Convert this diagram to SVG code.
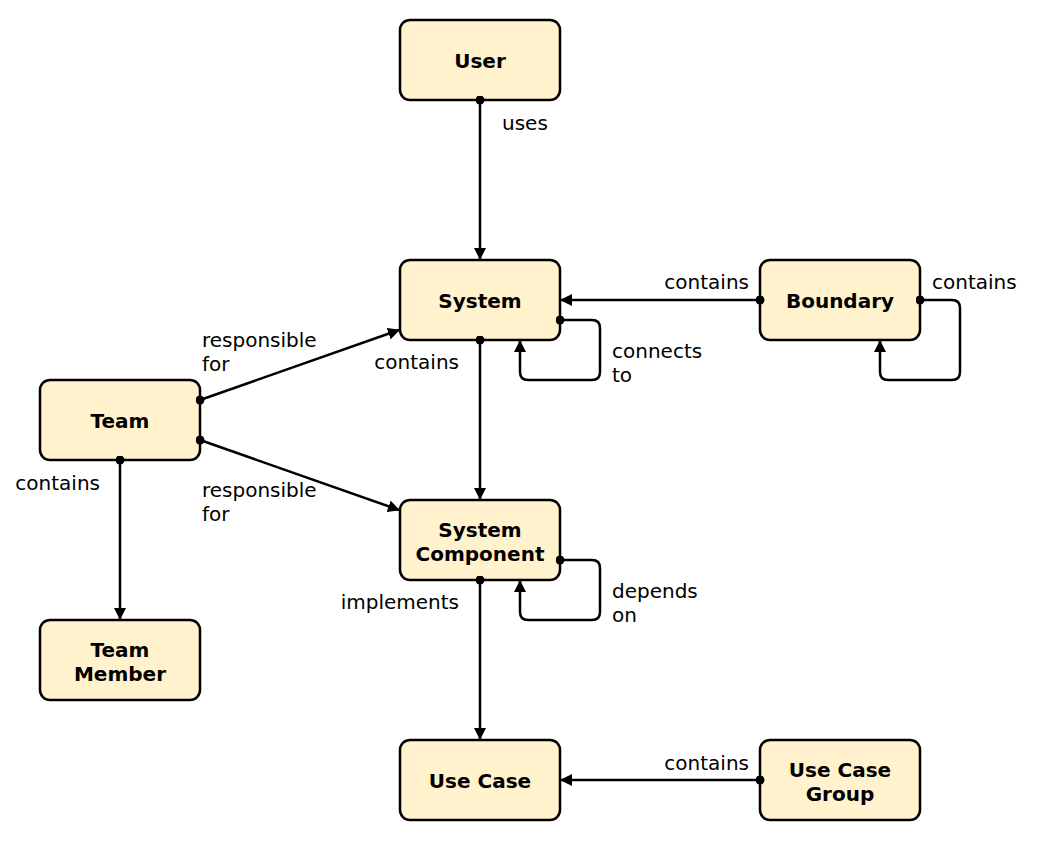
<svg xmlns="http://www.w3.org/2000/svg" width="1041" height="841" viewBox="0 0 1041 841">
<style>
.n rect{fill:#fff2cc;stroke:#000;stroke-width:2.5}
.n text{font-family:"DejaVu Sans",Verdana,sans-serif;font-size:20px;font-weight:bold;text-anchor:middle;fill:#000}
.e path{fill:none;stroke:#000;stroke-width:2.5;marker-start:url(#dot);marker-end:url(#arr)}
.l text{font-family:"DejaVu Sans",Verdana,sans-serif;font-size:20px;fill:#000}
.r{text-anchor:end}
</style>
<defs>
<marker id="arr" viewBox="0 0 12 12" refX="11" refY="6" markerWidth="12" markerHeight="12" markerUnits="userSpaceOnUse" orient="auto"><path d="M0,0 L12,6 L0,12 Z" fill="#000"/></marker>
<marker id="dot" viewBox="0 0 10 10" refX="5" refY="5" markerWidth="9" markerHeight="9" markerUnits="userSpaceOnUse"><circle cx="5" cy="5" r="5" fill="#000"/></marker>
</defs>
<rect width="1041" height="841" fill="#fff"/>
<g id="user" class="n"><rect x="400" y="20" width="160" height="80" rx="10"/><text x="480" y="68">User</text></g>
<g id="system" class="n"><rect x="400" y="260" width="160" height="80" rx="10"/><text x="480" y="308">System</text></g>
<g id="boundary" class="n"><rect x="760" y="260" width="160" height="80" rx="10"/><text x="840" y="308">Boundary</text></g>
<g id="team" class="n"><rect x="40" y="380" width="160" height="80" rx="10"/><text x="120" y="428">Team</text></g>
<g id="system-component" class="n"><rect x="400" y="500" width="160" height="80" rx="10"/><text x="480" y="537">System</text><text x="480" y="561">Component</text></g>
<g id="team-member" class="n"><rect x="40" y="620" width="160" height="80" rx="10"/><text x="120" y="657">Team</text><text x="120" y="681">Member</text></g>
<g id="use-case" class="n"><rect x="400" y="740" width="160" height="80" rx="10"/><text x="480" y="788">Use Case</text></g>
<g id="use-case-group" class="n"><rect x="760" y="740" width="160" height="80" rx="10"/><text x="840" y="777">Use Case</text><text x="840" y="801">Group</text></g>
<g id="connectors" class="e">
<path d="M480,100 L480,259"/>
<path d="M760,300 L561,300"/>
<path d="M920,300 L952,300 Q960,300 960,308 L960,372 Q960,380 952,380 L888,380 Q880,380 880,372 L880,341"/>
<path d="M560,320 L592,320 Q600,320 600,328 L600,372 Q600,380 592,380 L528,380 Q520,380 520,372 L520,341"/>
<path d="M480,340 L480,499"/>
<path d="M200,400 L399,330"/>
<path d="M200,440 L399,510"/>
<path d="M120,460 L120,619"/>
<path d="M560,560 L592,560 Q600,560 600,568 L600,612 Q600,620 592,620 L528,620 Q520,620 520,612 L520,581"/>
<path d="M480,580 L480,739"/>
<path d="M760,780 L561,780"/>
</g>
<g id="labels" class="l">
<text x="502" y="130">uses</text>
<text x="749" y="289" class="r">contains</text>
<text x="932" y="289">contains</text>
<text x="612" y="358">connects</text>
<text x="612" y="382">to</text>
<text x="459" y="369" class="r">contains</text>
<text x="202" y="347">responsible</text>
<text x="202" y="371">for</text>
<text x="202" y="497">responsible</text>
<text x="202" y="521">for</text>
<text x="100" y="490" class="r">contains</text>
<text x="612" y="598">depends</text>
<text x="612" y="622">on</text>
<text x="459" y="609" class="r">implements</text>
<text x="749" y="770" class="r">contains</text>
</g>
</svg>
